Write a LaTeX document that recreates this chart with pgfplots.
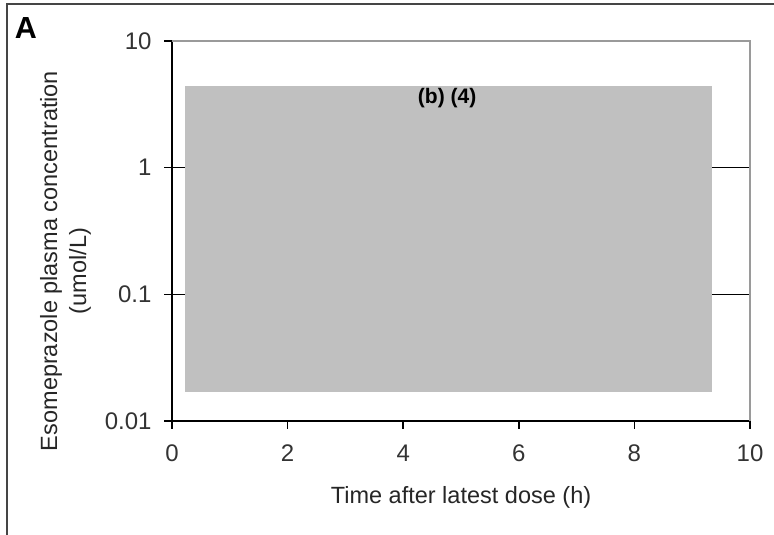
\documentclass[border=0pt]{standalone}
\usepackage{pgfplots}
\pgfplotsset{compat=1.18}
\usepackage{fontspec}
\setmainfont{Liberation Sans}
\definecolor{rectgray}{HTML}{C0C0C0}
\definecolor{axgray}{HTML}{9A9A9A}
\definecolor{framegray}{HTML}{454545}
\begin{document}
\begin{tikzpicture}
\useasboundingbox (0,0) rectangle (774bp,535bp);
\draw[framegray, line width=2bp] (7bp,0) -- (7bp,531bp) -- (774bp,531bp);
\begin{axis}[
  at={(172bp,114bp)}, anchor=south west,
  scale only axis, width=578bp, height=380bp,
  xmin=0, xmax=10, ymin=0.01, ymax=10, ymode=log,
  xtick={0,2,4,6,8,10},
  ytick={0.01,0.1,1,10}, yticklabels={0.01,0.1,1,10},
  yminorticks=false, xminorticks=false,
  axis lines=left, axis line style={-, black, line width=1.5bp},
  tick align=outside, major tick length=8bp,
  tick style={black, line width=1.5bp},
  every tick label/.append style={font=\fontsize{24bp}{28bp}\selectfont, text=black!80},
  /pgf/number format/assume math mode=true,
  yticklabel style={xshift=-9bp},
  xticklabel style={yshift=-12bp},
  clip=false,
]
\addplot[black, line width=1.5bp] coordinates {(0,1) (10,1)};
\addplot[black, line width=1.5bp] coordinates {(0,0.1) (10,0.1)};
\addplot[fill=rectgray, draw=none] coordinates {(0.225,0.0168) (9.34,0.0168) (9.34,4.42) (0.225,4.42)} -- cycle;
\draw[axgray, line width=1.5bp] (rel axis cs:0,1) -- (rel axis cs:1,1) -- (rel axis cs:1,0);
\node[font=\bfseries\fontsize{21bp}{25bp}\selectfont] at (axis cs:4.76,3.55) {(b) (4)};
\end{axis}
\node[font=\bfseries\fontsize{30.5bp}{36bp}\selectfont] at (26bp,507bp) {A};
\node[font=\fontsize{23.5bp}{28bp}\selectfont, text=black!85] at (461bp,38bp) {Time after latest dose (h)};
\node[font=\fontsize{23.5bp}{28bp}\selectfont, text=black!85, rotate=90] at (51bp,274bp) {Esomeprazole plasma concentration};
\node[font=\fontsize{23.5bp}{28bp}\selectfont, text=black!85, rotate=90] at (80bp,264bp) {(umol/L)};
\end{tikzpicture}
\end{document}
